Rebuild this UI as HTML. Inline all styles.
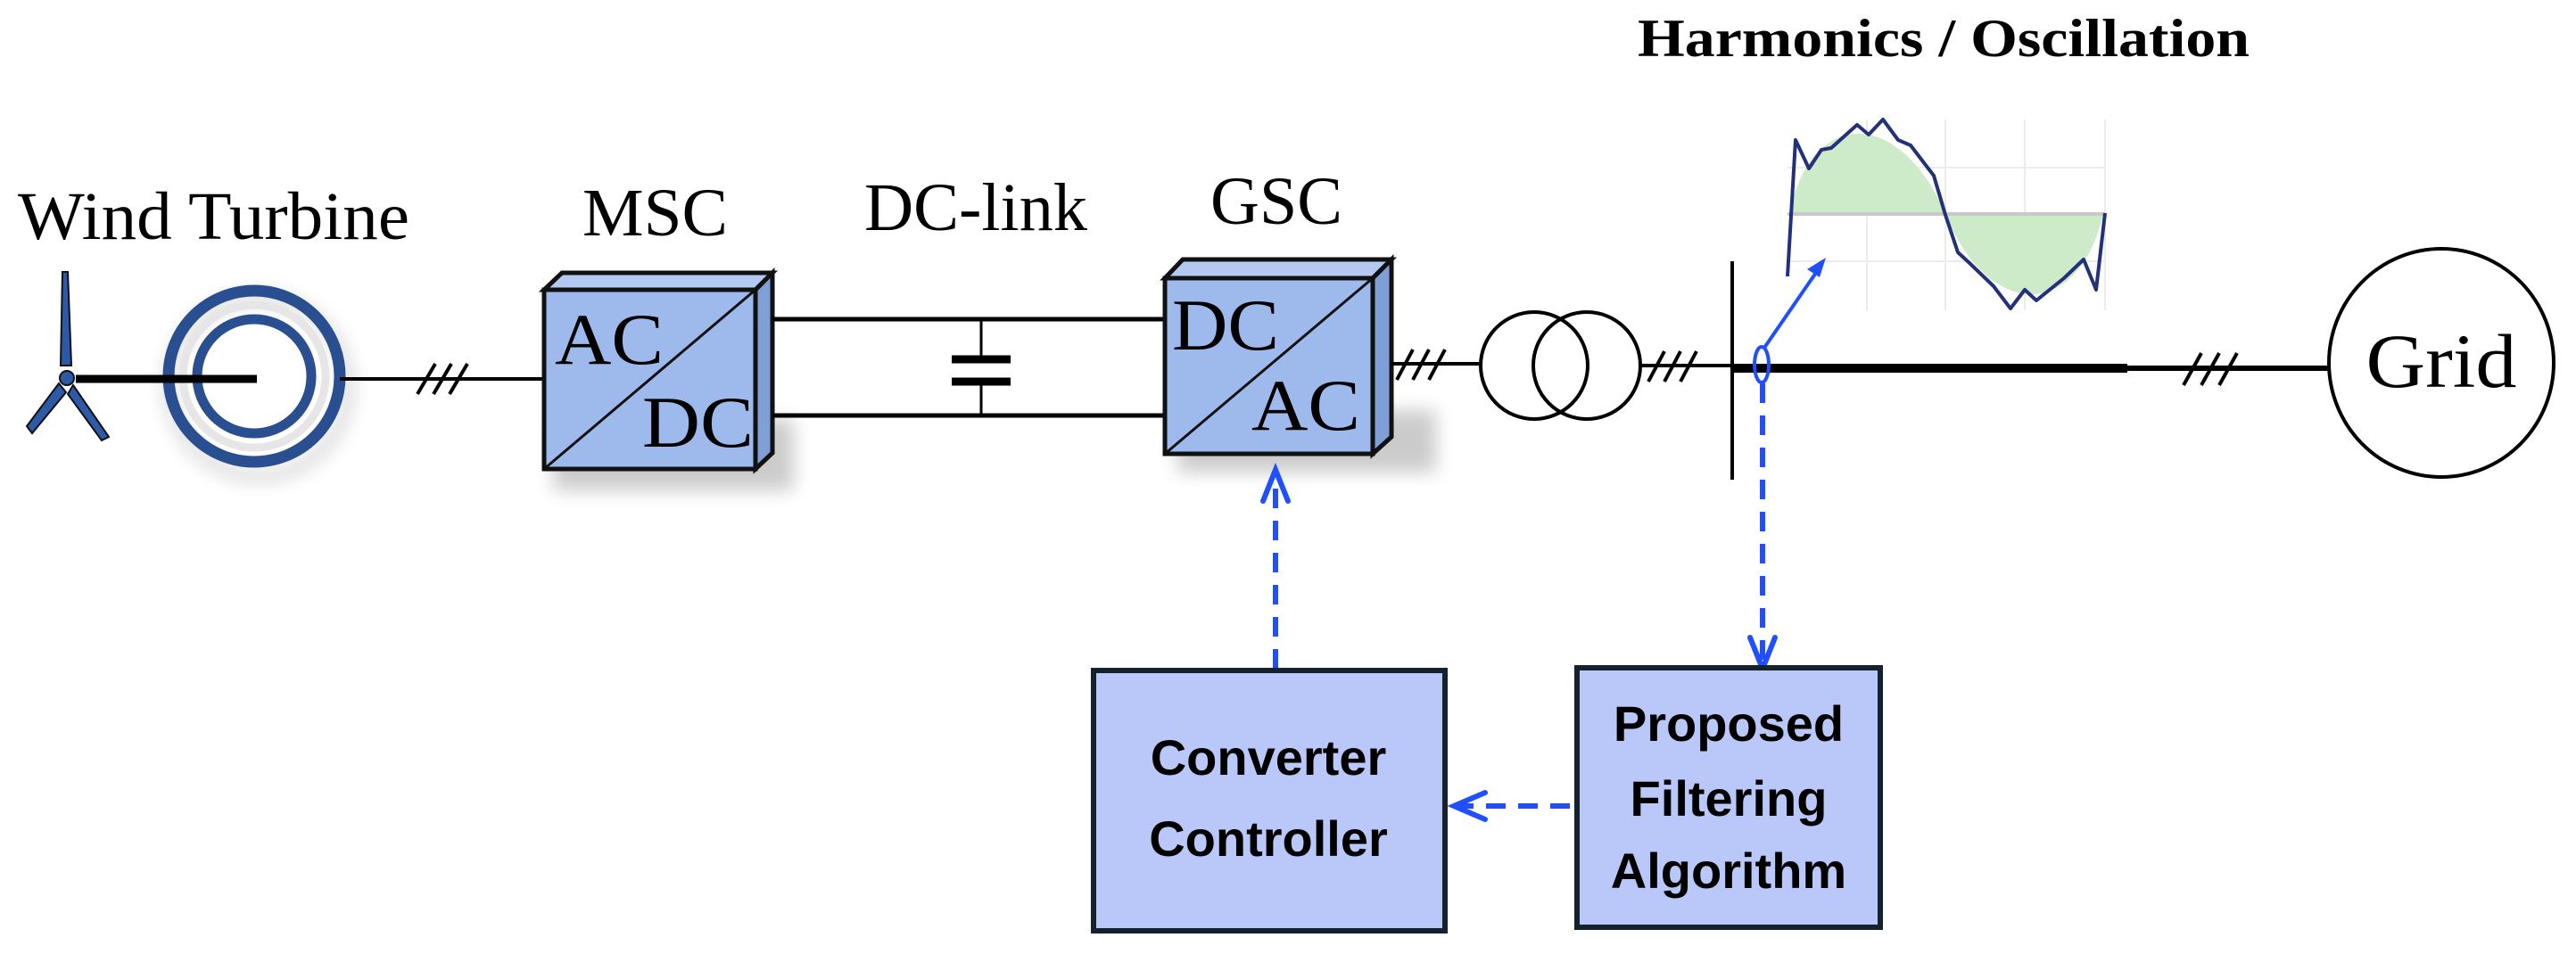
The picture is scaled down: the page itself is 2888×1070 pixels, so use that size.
<!DOCTYPE html>
<html><head><meta charset="utf-8"><style>html,body{margin:0;padding:0;background:#fff}svg{display:block}</style></head>
<body>
<svg width="2888" height="1070" viewBox="0 0 2888 1070" xmlns="http://www.w3.org/2000/svg">
<defs>
<filter id="sh" x="-30%" y="-30%" width="160%" height="160%"><feGaussianBlur stdDeviation="10"/></filter>
</defs>
<!-- labels -->
<g font-family="Liberation Serif, serif" fill="#000">
<text x="20" y="268" font-size="76" textLength="439" lengthAdjust="spacingAndGlyphs">Wind Turbine</text>
<text x="653" y="264" font-size="76" textLength="163" lengthAdjust="spacingAndGlyphs">MSC</text>
<text x="969" y="258" font-size="76" textLength="250" lengthAdjust="spacingAndGlyphs">DC-link</text>
<text x="1357" y="251" font-size="76" textLength="148" lengthAdjust="spacingAndGlyphs">GSC</text>
<text x="1836" y="63" font-size="60" font-weight="bold" textLength="686" lengthAdjust="spacingAndGlyphs">Harmonics / Oscillation</text>
</g>
<!-- turbine -->
<g fill="#2d5aa8" stroke="#111" stroke-width="2">
<path d="M70,305 L76,305 L80,410 L68,410 Z"/>
<path d="M66,430 L30,478 L36,486 L74,440 Z"/>
<path d="M82,432 L122,490 L114,494 L76,442 Z"/>
<circle cx="75" cy="424" r="8"/>
</g>
<circle cx="290" cy="434" r="100" fill="none" stroke="#000" stroke-width="14" opacity="0.15" filter="url(#sh)"/>
<circle cx="285" cy="422" r="96" fill="none" stroke="#2a4f90" stroke-width="13"/>
<circle cx="285" cy="422" r="80" fill="none" stroke="#e6e6e6" stroke-width="9"/>
<circle cx="285" cy="422" r="64" fill="none" stroke="#2a4f90" stroke-width="11"/>
<line x1="85" y1="425" x2="288" y2="425" stroke="#000" stroke-width="9"/>
<!-- line to MSC -->
<g stroke="#000" stroke-width="4" fill="none">
<line x1="381" y1="425" x2="612" y2="425"/>
<line x1="468" y1="442" x2="488" y2="408"/><line x1="486" y1="442" x2="506" y2="408"/><line x1="504" y1="442" x2="524" y2="408"/>
</g>
<!-- shadows -->
<rect x="620" y="470" width="270" height="80" fill="#000" opacity="0.2" filter="url(#sh)"/>
<rect x="1320" y="460" width="290" height="70" fill="#000" opacity="0.2" filter="url(#sh)"/>
<!-- MSC box -->
<g stroke="#111" stroke-width="5" stroke-linejoin="miter">
<polygon points="610,325 630,306 866,306 847,325" fill="#b3c9f2"/>
<polygon points="847,325 866,306 866,508 847,526" fill="#7f9fd6"/>
<rect x="610" y="325" width="237" height="201" fill="#9eb9ec"/>
<line x1="610" y1="526" x2="847" y2="325" stroke-width="3"/>
</g>
<g font-family="Liberation Serif, serif" font-size="82">
<text x="622" y="408" textLength="122" lengthAdjust="spacingAndGlyphs">AC</text><text x="720" y="501" textLength="125" lengthAdjust="spacingAndGlyphs">DC</text>
</g>
<!-- DC link -->
<g stroke="#000" stroke-width="5">
<line x1="866" y1="358" x2="1306" y2="358"/>
<line x1="866" y1="466" x2="1306" y2="466"/>
<line x1="1100" y1="358" x2="1100" y2="402" stroke-width="3"/>
<line x1="1100" y1="429" x2="1100" y2="466" stroke-width="3"/>
<line x1="1067" y1="403" x2="1133" y2="403" stroke-width="9"/>
<line x1="1067" y1="428" x2="1133" y2="428" stroke-width="9"/>
</g>
<!-- GSC box -->
<g stroke="#111" stroke-width="5">
<polygon points="1306,312 1326,291 1560,291 1539,312" fill="#b3c9f2"/>
<polygon points="1539,312 1560,291 1560,490 1539,509" fill="#7f9fd6"/>
<rect x="1306" y="312" width="233" height="197" fill="#9eb9ec"/>
<line x1="1306" y1="509" x2="1539" y2="312" stroke-width="3"/>
</g>
<g font-family="Liberation Serif, serif" font-size="82">
<text x="1314" y="392" textLength="120" lengthAdjust="spacingAndGlyphs">DC</text><text x="1403" y="482" textLength="122" lengthAdjust="spacingAndGlyphs">AC</text>
</g>
<!-- GSC to transformer -->
<g stroke="#000" stroke-width="4" fill="none">
<line x1="1560" y1="408" x2="1659" y2="408"/>
<line x1="1566" y1="426" x2="1584" y2="392"/><line x1="1584" y1="426" x2="1602" y2="392"/><line x1="1602" y1="426" x2="1620" y2="392"/>
<circle cx="1720" cy="410" r="60"/><circle cx="1779" cy="410" r="60"/>
<line x1="1839" y1="410" x2="1942" y2="410"/>
<line x1="1848" y1="428" x2="1866" y2="394"/><line x1="1866" y1="428" x2="1884" y2="394"/><line x1="1884" y1="428" x2="1902" y2="394"/>
<line x1="1942" y1="293" x2="1942" y2="538" stroke-width="4"/>
<line x1="1942" y1="413" x2="2385" y2="413" stroke-width="10"/>
<line x1="2385" y1="413" x2="2611" y2="413" stroke-width="6"/>
<line x1="2448" y1="432" x2="2468" y2="396"/><line x1="2468" y1="432" x2="2488" y2="396"/><line x1="2488" y1="432" x2="2508" y2="396"/>
<ellipse cx="2737" cy="407" rx="126" ry="128" stroke-width="4"/>
</g>
<text x="2737" y="434" font-family="Liberation Serif, serif" font-size="86" text-anchor="middle" textLength="169" lengthAdjust="spacingAndGlyphs">Grid</text>
<!-- waveform -->
<g stroke="#ececec" stroke-width="2">
<line x1="2093" y1="134" x2="2093" y2="348"/><line x1="2181" y1="134" x2="2181" y2="348"/><line x1="2270" y1="134" x2="2270" y2="348"/><line x1="2360" y1="134" x2="2360" y2="348"/>
<line x1="2004" y1="188" x2="2360" y2="188"/><line x1="2004" y1="293" x2="2360" y2="293"/>
</g>
<path d="M2006,240 C2030,120 2130,120 2181,240 C2230,360 2330,360 2358,240 Z" fill="#cdebc9"/>
<line x1="2004" y1="240" x2="2360" y2="240" stroke="#c8c8c8" stroke-width="4"/>
<path d="M2004,310 L2013,157 L2028,189 L2042,168 L2053,166 L2082,140 L2095,151 L2111,134 L2128,157 L2142,163 L2168,197 L2181,241 L2195,283 L2208,295 L2235,321 L2254,346 L2270,325 L2283,337 L2314,312 L2336,291 L2350,325 L2360,239" fill="none" stroke="#23307a" stroke-width="4" stroke-linejoin="round"/>
<!-- CT and arrows -->
<ellipse cx="1975" cy="409" rx="8" ry="20" fill="none" stroke="#1f4fff" stroke-width="4"/>
<line x1="1978" y1="390" x2="2040" y2="300" stroke="#1f4fff" stroke-width="4"/>
<polygon points="2047,289 2026,302 2040,311" fill="#1f4fff"/>
<g stroke="#1f4fff" stroke-width="6" fill="none" stroke-dasharray="22,14">
<line x1="1976" y1="430" x2="1976" y2="745"/>
<line x1="1430" y1="750" x2="1430" y2="530"/>
<line x1="1760" y1="904" x2="1635" y2="904"/>
</g>
<g stroke="#1f4fff" stroke-width="6" fill="none" stroke-linecap="round">
<polyline points="1962,715 1976,750 1990,715"/>
<polyline points="1416,562 1430,527 1444,562"/>
<polyline points="1665,889 1630,904 1665,919"/>
</g>
<!-- control boxes -->
<rect x="1226" y="752" width="394" height="292" fill="#b9c8f8" stroke="#14222e" stroke-width="6"/>
<rect x="1768" y="749" width="340" height="291" fill="#b9c8f8" stroke="#14222e" stroke-width="6"/>
<g font-family="Liberation Sans, sans-serif" font-weight="bold" font-size="56" text-anchor="middle" fill="#000">
<text x="1422" y="869">Converter</text>
<text x="1422" y="960">Controller</text>
<text x="1938" y="831">Proposed</text>
<text x="1938" y="915">Filtering</text>
<text x="1938" y="996">Algorithm</text>
</g>
</svg>
</body></html>
